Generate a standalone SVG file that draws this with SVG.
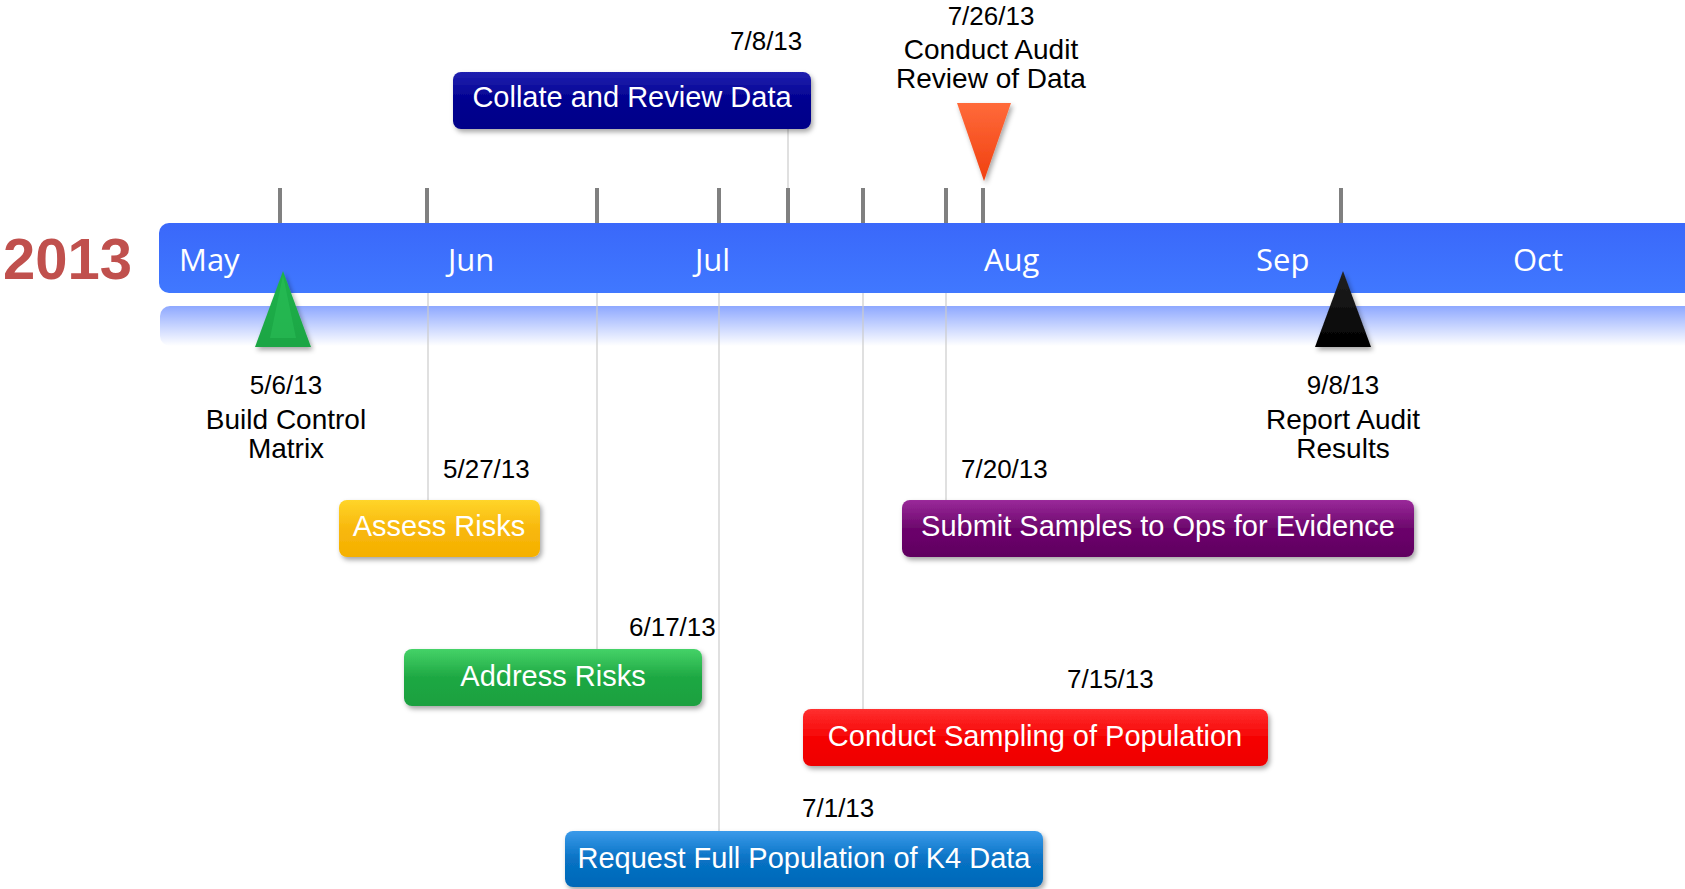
<svg xmlns="http://www.w3.org/2000/svg" width="1685" height="889" viewBox="0 0 1685 889">
<defs>
<style>
.tick{stroke:#808080;stroke-width:4}
.conn{stroke:#cccccc;stroke-width:1.2;fill:none}
.month{font-family:"Open Sans","Noto Sans",sans-serif;font-size:31px;fill:#ffffff}
.date{font-family:"Liberation Sans",Arial,sans-serif;font-size:26px;fill:#000000}
.lbl{font-family:"Liberation Sans",Arial,sans-serif;font-size:28px;fill:#000000;text-anchor:middle}
.btxt{font-family:"Liberation Sans",Arial,sans-serif;font-size:29px;fill:#ffffff;text-anchor:middle}
.box{filter:url(#sh)}
</style>
<filter id="sh" x="-10%" y="-20%" width="120%" height="150%">
<feDropShadow dx="2" dy="3" stdDeviation="2.5" flood-color="#000" flood-opacity="0.35"/>
</filter>
<linearGradient id="gBar" x1="0" y1="0" x2="0" y2="1"><stop offset="0" stop-color="#3a68fa"/><stop offset="1" stop-color="#4078ff"/></linearGradient>
<linearGradient id="gRef" x1="0" y1="0" x2="0" y2="1"><stop offset="0" stop-color="#8ea8ff"/><stop offset="1" stop-color="#ffffff"/></linearGradient>
<linearGradient id="gNavy" x1="0" y1="0" x2="0" y2="1"><stop offset="0" stop-color="#2020b0"/><stop offset="0.5" stop-color="#00008f"/><stop offset="1" stop-color="#000088"/></linearGradient>
<linearGradient id="gOrange" x1="0" y1="0" x2="0" y2="1"><stop offset="0" stop-color="#ffd52a"/><stop offset="0.5" stop-color="#f8b80c"/><stop offset="1" stop-color="#f5b000"/></linearGradient>
<linearGradient id="gGreen" x1="0" y1="0" x2="0" y2="1"><stop offset="0" stop-color="#45d268"/><stop offset="0.5" stop-color="#1ea843"/><stop offset="1" stop-color="#1aa040"/></linearGradient>
<linearGradient id="gBlue" x1="0" y1="0" x2="0" y2="1"><stop offset="0" stop-color="#3a9aea"/><stop offset="0.5" stop-color="#0872c4"/><stop offset="1" stop-color="#0068b8"/></linearGradient>
<linearGradient id="gRed" x1="0" y1="0" x2="0" y2="1"><stop offset="0" stop-color="#ff3030"/><stop offset="0.5" stop-color="#f60404"/><stop offset="1" stop-color="#ee0000"/></linearGradient>
<linearGradient id="gPurple" x1="0" y1="0" x2="0" y2="1"><stop offset="0" stop-color="#9a2a9a"/><stop offset="0.5" stop-color="#6c066c"/><stop offset="1" stop-color="#600060"/></linearGradient>
<linearGradient id="gTriG" x1="0" y1="0" x2="0" y2="1"><stop offset="0" stop-color="#1fb24a"/><stop offset="1" stop-color="#1aa544"/></linearGradient>
<linearGradient id="gTriK" x1="0" y1="0" x2="0" y2="1"><stop offset="0" stop-color="#222"/><stop offset="1" stop-color="#000"/></linearGradient>
<linearGradient id="gTriO" x1="0" y1="0" x2="0" y2="1"><stop offset="0" stop-color="#ff6a3a"/><stop offset="1" stop-color="#f04010"/></linearGradient>
</defs>
<rect width="1685" height="889" fill="#ffffff"/>

<g id="timeline">
<rect x="160" y="306" width="1540" height="40" rx="10" fill="url(#gRef)"/>
<rect x="159" y="223" width="1540" height="70" rx="10" fill="url(#gBar)"/>
<text x="3" y="279" font-family="Liberation Sans,Arial,sans-serif" font-weight="bold" font-size="58" fill="#c0504d">2013</text>
<text class="month" x="179" y="271">May</text>
<text class="month" x="448" y="271">Jun</text>
<text class="month" x="695" y="271">Jul</text>
<text class="month" x="984" y="271">Aug</text>
<text class="month" x="1256" y="271">Sep</text>
<text class="month" x="1513" y="271">Oct</text>
</g>

<g id="ticks">
<line class="tick" x1="280" y1="188" x2="280" y2="223"/>
<line class="tick" x1="427" y1="188" x2="427" y2="223"/>
<line class="tick" x1="597" y1="188" x2="597" y2="223"/>
<line class="tick" x1="719" y1="188" x2="719" y2="223"/>
<line class="tick" x1="788" y1="188" x2="788" y2="223"/>
<line class="tick" x1="863" y1="188" x2="863" y2="223"/>
<line class="tick" x1="946" y1="188" x2="946" y2="223"/>
<line class="tick" x1="983" y1="188" x2="983" y2="223"/>
<line class="tick" x1="1341" y1="188" x2="1341" y2="223"/>
</g>

<g id="connectors">
<line class="conn" x1="788" y1="129" x2="788" y2="188"/>
<line class="conn" x1="428" y1="293" x2="428" y2="500"/>
<line class="conn" x1="597" y1="293" x2="597" y2="649"/>
<line class="conn" x1="719" y1="293" x2="719" y2="831"/>
<line class="conn" x1="863" y1="293" x2="863" y2="709"/>
<line class="conn" x1="946" y1="293" x2="946" y2="500"/>
</g>

<g id="m-build">
<polygon points="283,271 311,347 255,347" fill="url(#gTriG)" filter="url(#sh)"/>
<polygon points="283,275 270,338 296,338" fill="#2bc25a" opacity="0.5"/>
<text class="date" x="286" y="394" text-anchor="middle">5/6/13</text>
<text class="lbl" x="286" y="429">Build Control</text>
<text class="lbl" x="286" y="458">Matrix</text>
</g>

<g id="m-report">
<polygon points="1343,271 1371,347 1315,347" fill="url(#gTriK)" filter="url(#sh)"/>
<text class="date" x="1343" y="394" text-anchor="middle">9/8/13</text>
<text class="lbl" x="1343" y="429">Report Audit</text>
<text class="lbl" x="1343" y="458">Results</text>
</g>

<g id="m-audit">
<polygon points="957,103 1011,103 984,181" fill="url(#gTriO)" filter="url(#sh)"/>
<text class="date" x="991" y="25" text-anchor="middle">7/26/13</text>
<text class="lbl" x="991" y="59">Conduct Audit</text>
<text class="lbl" x="991" y="88">Review of Data</text>
</g>

<g id="t-collate">
<rect class="box" x="453" y="72" width="358" height="57" rx="8" fill="url(#gNavy)"/>
<text class="btxt" x="632" y="107">Collate and Review Data</text>
<text class="date" x="730" y="50">7/8/13</text>
</g>

<g id="t-assess">
<rect class="box" x="339" y="500" width="201" height="57" rx="8" fill="url(#gOrange)"/>
<text class="btxt" x="439" y="536">Assess Risks</text>
<text class="date" x="443" y="478">5/27/13</text>
</g>

<g id="t-address">
<rect class="box" x="404" y="649" width="298" height="57" rx="8" fill="url(#gGreen)"/>
<text class="btxt" x="553" y="686">Address Risks</text>
<text class="date" x="629" y="636">6/17/13</text>
</g>

<g id="t-request">
<rect class="box" x="565" y="831" width="478" height="56" rx="8" fill="url(#gBlue)"/>
<text class="btxt" x="804" y="868">Request Full Population of K4 Data</text>
<text class="date" x="802" y="817">7/1/13</text>
</g>

<g id="t-sampling">
<rect class="box" x="803" y="709" width="465" height="57" rx="8" fill="url(#gRed)"/>
<text class="btxt" x="1035" y="746">Conduct Sampling of Population</text>
<text class="date" x="1067" y="688">7/15/13</text>
</g>

<g id="t-submit">
<rect class="box" x="902" y="500" width="512" height="57" rx="8" fill="url(#gPurple)"/>
<text class="btxt" x="1158" y="536">Submit Samples to Ops for Evidence</text>
<text class="date" x="961" y="478">7/20/13</text>
</g>
</svg>
